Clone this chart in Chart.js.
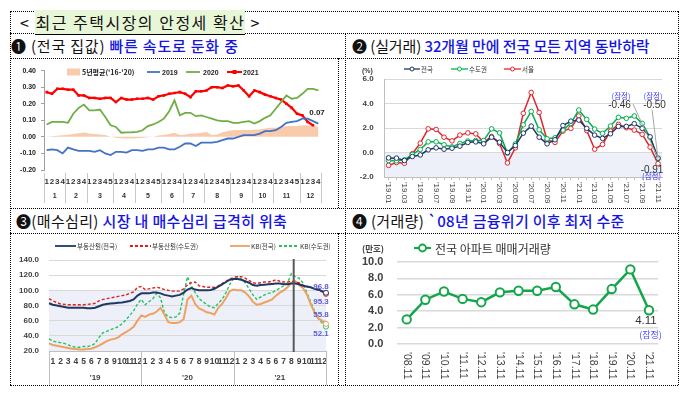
<!DOCTYPE html>
<html>
<head>
<meta charset="utf-8">
<script src="https://cdn.jsdelivr.net/npm/chart.js@4.4.0/dist/chart.umd.min.js"></script>
<style>
body{margin:0;background:#fff;}
#page{position:relative;width:683px;height:395px;overflow:hidden;font-family:"Noto Sans CJK KR",sans-serif;}
.hl{position:absolute;height:0;border-top:1px dotted #000;}
.vl{position:absolute;width:0;border-left:1px dotted #000;}
.hd{position:absolute;font-size:15px;line-height:18px;white-space:nowrap;color:#111;}
.blue{color:#1414e6;font-weight:500;}
.mark{background:#e8f6d8;border-bottom:1px solid #000;}
.cv{position:absolute;}
</style>
</head>
<body>
<div id="page">
  <div class="hl" style="left:10px;top:11px;width:668px"></div>
  <div class="hl" style="left:10px;top:33px;width:668px"></div>
  <div class="hl" style="left:10px;top:58px;width:668px"></div>
  <div class="hl" style="left:10px;top:208px;width:668px"></div>
  <div class="hl" style="left:10px;top:233px;width:668px"></div>
  <div class="hl" style="left:10px;top:385px;width:668px"></div>
  <div class="vl" style="left:10px;top:11px;height:374px"></div>
  <div class="vl" style="left:678px;top:11px;height:374px"></div>
  <div class="vl" style="left:345px;top:33px;height:352px"></div>
  <div class="vl" style="left:338px;top:58px;height:150px"></div>
  <div class="vl" style="left:338px;top:233px;height:152px"></div>

  <div class="hd" style="left:20px;top:13px;font-size:16px;letter-spacing:1.5px">&lt; <span class="mark">최근 주택시장의 안정세 확산</span> &gt;</div>
  <div class="hd" style="left:11px;top:37px;letter-spacing:0.8px">❶ (전국 집값) <span class="blue">빠른 속도로 둔화 중</span></div>
  <div class="hd" style="left:352px;top:37px;letter-spacing:-0.1px">❷ (실거래) <span class="blue">32개월 만에 전국 모든 지역 동반하락</span></div>
  <div class="hd" style="left:16px;top:212px;letter-spacing:0.35px">❸(매수심리) <span class="blue">시장 내 매수심리 급격히 위축</span></div>
  <div class="hd" style="left:352px;top:212px;letter-spacing:0.3px">❹ (거래량) <span class="blue">`08년 금융위기 이후 최저 수준</span></div>

  <canvas id="c1" class="cv" width="325" height="148" style="left:12px;top:59px"></canvas>
  <canvas id="c2" class="cv" width="331" height="148" style="left:346px;top:59px"></canvas>
  <canvas id="c3" class="cv" width="325" height="150" style="left:12px;top:235px"></canvas>
  <canvas id="c4" class="cv" width="331" height="150" style="left:346px;top:235px"></canvas>
</div>
<script>
// ---------- chart 1: weekly price change (%)
const weekCounts = [4, 4, 5, 4, 5, 4, 4, 5, 4, 4, 5, 4];
const monthLabels = ['1', '2', '3', '4', '5', '6', '7', '8', '9', '10', '11', '12'];
const avg5y = [0.0, 0.003, 0.006, 0.01, 0.013, 0.018, 0.022, 0.026, 0.02, 0.017, 0.015, 0.012, 0.0,
  -0.005, -0.008, -0.01, -0.01, -0.008, -0.005, -0.003, 0.0, 0.008, 0.012, 0.018, 0.025, 0.012,
  0.015, 0.02, 0.02, 0.025, 0.03, 0.012, 0.015, 0.028, 0.035, 0.04, 0.042, 0.042, 0.042, 0.043,
  0.045, 0.05, 0.055, 0.055, 0.06, 0.065, 0.065, 0.065, 0.068, 0.07, 0.068, 0.06];
const y2019 = [-0.08, -0.075, -0.08, -0.10, -0.065, -0.075, -0.085, -0.085, -0.085, -0.09,
  -0.08, -0.10, -0.11, -0.09, -0.09, -0.095, -0.08, -0.08, -0.085, -0.075,
  -0.075, -0.065, -0.065, -0.075, -0.075, -0.06, -0.04, -0.04, -0.055, -0.035,
  -0.035, -0.035, -0.03, -0.02, -0.01, -0.01, 0.0, 0.01, 0.01, 0.01,
  0.02, 0.035, 0.035, 0.04, 0.06, 0.085, 0.09, 0.095, 0.11, 0.11, 0.095, 0.08];
const y2020 = [0.075, 0.09, 0.09, 0.09, 0.085, 0.14, 0.175, 0.195, 0.16, 0.16,
  0.165, 0.12, 0.07, 0.06, 0.025, 0.027, 0.028, 0.03, 0.04, 0.065,
  0.075, 0.09, 0.11, 0.155, 0.22, 0.13, 0.145, 0.145, 0.125, 0.13,
  0.12, 0.11, 0.10, 0.095, 0.095, 0.085, 0.085, 0.09, 0.095, 0.08,
  0.095, 0.115, 0.13, 0.17, 0.21, 0.25, 0.23, 0.235, 0.26, 0.29, 0.29, 0.28];
const y2021 = [0.27, 0.26, 0.29, 0.29, 0.285, 0.285, 0.25, 0.25, 0.235, 0.235,
  0.23, 0.235, 0.235, 0.21, 0.235, 0.225, 0.225, 0.23, 0.23, 0.235,
  0.225, 0.245, 0.25, 0.26, 0.265, 0.27, 0.26, 0.24, 0.275, 0.275,
  0.28, 0.30, 0.30, 0.295, 0.31, 0.305, 0.31, 0.28, 0.245, 0.28,
  0.27, 0.255, 0.245, 0.235, 0.225, 0.20, 0.175, 0.14, 0.13, 0.09, 0.07];

// ---------- chart 2: monthly real transaction price change (%)
const monthTicks = ["'19.01", "'19.02", "'19.03", "'19.04", "'19.05", "'19.06", "'19.07", "'19.08", "'19.09", "'19.10", "'19.11", "'19.12",
  "'20.01", "'20.02", "'20.03", "'20.04", "'20.05", "'20.06", "'20.07", "'20.08", "'20.09", "'20.10", "'20.11", "'20.12",
  "'21.01", "'21.02", "'21.03", "'21.04", "'21.05", "'21.06", "'21.07", "'21.08", "'21.09", "'21.10", "'21.11"];
const natChg = [-0.44, -0.46, -0.65, -0.33, -0.2, 0.22, 0.38, 0.27, 0.35, 0.52, 0.82, 0.87,
  0.71, 1.25, 0.84, 0.0, 0.57, 1.58, 2.15, 1.25, 0.71, 1.04, 2.2, 2.56,
  2.65, 1.97, 1.42, 1.15, 1.53, 2.13, 2.13, 2.35, 1.97, 1.28, -0.46];
const capChg = [-0.65, -0.68, -0.6, -0.16, 0.25, 0.87, 0.87, 0.63, 0.46, 0.74, 0.93, 0.98,
  0.98, 1.93, 1.6, -0.05, 0.7, 2.26, 3.35, 1.85, 1.12, 1.2, 1.83, 2.38,
  3.47, 2.7, 1.91, 1.56, 2.16, 2.87, 2.79, 2.98, 2.38, 1.23, -0.50];
const seoulChg = [-1.05, -0.82, -0.88, -0.1, 0.76, 1.93, 1.88, 1.25, 0.95, 1.42, 1.6, 1.52,
  0.85, 1.3, 0.73, -0.85, 0.38, 3.2, 4.9, 3.27, 1.03, 0.82, 1.75, 1.97,
  2.98, 1.8, 0.27, 0.66, 1.75, 2.3, 2.02, 1.83, 1.48, 0.44, -0.91];

// ---------- chart 3: buyer sentiment, half-month steps '19.01 ~ '21.12
const yearLabels = ["'19", "'20", "'21"];
const rebNat = [83, 81, 80, 79, 78, 77, 77, 77, 77, 77, 76.5, 76.5, 77, 79, 81, 82, 82.5, 83, 83.5, 84, 85, 86, 88, 93,
  96, 96, 96, 97, 97, 96, 94, 93, 92, 93, 94, 97, 101, 103, 101, 100, 100, 100, 100.5, 102, 105, 108, 111, 114,
  115, 115, 114, 112, 110, 107, 106, 107, 107.5, 108, 108.5, 109, 109, 108, 108, 109, 109, 108, 106, 105, 104, 102, 101, 99, 96.8];
const rebCap = [89, 86, 84, 82, 81.5, 81, 81, 81, 81, 81, 81.5, 82, 83, 86, 88, 89, 90, 91, 92, 93, 94, 96, 98, 104,
  105, 101, 102, 103, 104, 103, 101, 100, 99, 99, 99, 102, 107, 110, 111, 106, 105, 104, 104, 104, 106, 109, 112, 115,
  117, 118, 118, 116, 113, 110, 109, 110, 111, 111, 112, 114, 112, 111, 111, 112, 111, 110, 107, 105, 104, 102, 100, 98, 95.3];
const kbNat = [30, 28, 27, 26, 25, 24, 23, 22.5, 22, 22, 22.5, 23, 25, 27, 30, 33, 35, 36, 38, 42, 45, 48, 52, 60,
  67, 65, 68, 69, 72, 77, 68, 58, 57, 57, 58, 62, 88, 93, 82, 76, 74, 71, 70, 68, 77, 82, 90, 99,
  101, 100, 100, 97, 92, 85, 81, 82, 84, 86, 88, 93, 97, 100, 104, 110, 112, 107, 103, 95, 82, 71, 63, 60, 55.8];
const kbCap = [36, 33, 32, 31, 30, 28, 26, 25, 25, 26, 26, 27, 30, 38, 44, 46, 48, 50, 52, 56, 61, 67, 73, 82,
  88, 81, 85, 89, 96, 90, 70, 65, 64, 65, 70, 95, 118, 106, 97, 89, 85, 81, 78, 77, 83, 88, 97, 108,
  116, 118, 115, 110, 102, 94, 88, 91, 94, 96, 97, 100, 103, 106, 110, 122, 118, 116, 110, 97, 85, 73, 63, 57, 52.1];
const markerStep = 63.6;

// ---------- chart 4: November apartment transactions (10k units)
const novLabels = ["'08.11", "'09.11", "'10.11", "'11.11", "'12.11", "'13.11", "'14.11", "'15.11", "'16.11", "'17.11", "'18.11", "'19.11", "'20.11", "'21.11"];
const novDeals = [3.0, 5.4, 6.4, 5.5, 5.1, 6.3, 6.5, 6.5, 6.95, 4.84, 4.2, 6.7, 9.1, 4.11];

Chart.defaults.font.family = "'Liberation Sans', Arial, sans-serif";
Chart.defaults.color = '#404040';
Chart.defaults.animation = false;
Chart.defaults.plugins.legend.display = false;
Chart.defaults.plugins.tooltip.enabled = false;

const KR = '"Noto Sans CJK KR", sans-serif';
const page = document.getElementById('page');

// small helpers for html legend pieces
function label(x, y, s, css) {
  const d = document.createElement('div');
  d.textContent = s;
  d.style.cssText = 'position:absolute;white-space:nowrap;line-height:1;transform:translateY(-50%);left:' + x + 'px;top:' + y + 'px;' + (css || '');
  page.appendChild(d);
}
function sym(x, y, w, o) {
  const ns = 'http://www.w3.org/2000/svg';
  const svg = document.createElementNS(ns, 'svg');
  svg.setAttribute('width', w); svg.setAttribute('height', 10);
  svg.style.cssText = 'position:absolute;overflow:visible;left:' + x + 'px;top:' + (y - 5) + 'px';
  let h = '';
  if (o.box) h += '<rect x="0" y="' + (5 - o.box / 2) + '" width="' + w + '" height="' + o.box + '" fill="' + o.color + '"/>';
  else h += '<line x1="0" y1="5" x2="' + w + '" y2="5" stroke="' + o.color + '" stroke-width="' + (o.lw || 1.5) + '"' + (o.dash ? ' stroke-dasharray="' + o.dash + '"' : '') + '/>';
  if (o.circle) h += '<circle cx="' + w / 2 + '" cy="5" r="' + o.circle + '" fill="#fff" stroke="' + o.color + '" stroke-width="' + (o.cw || 1) + '"/>';
  if (o.square) h += '<rect x="' + (w / 2 - o.square) + '" y="' + (5 - o.square) + '" width="' + 2 * o.square + '" height="' + 2 * o.square + '" fill="' + o.color + '"/>';
  svg.innerHTML = h;
  page.appendChild(svg);
}

// plugins
const groupLines = {
  id: 'groupLines',
  afterDraw(chart, args, o) {
    const ctx = chart.ctx, sc = chart.scales[o.scale], ca = chart.chartArea;
    ctx.save();
    ctx.strokeStyle = o.color; ctx.lineWidth = 1;
    o.at.forEach(v => {
      const px = Math.round(sc.getPixelForValue(v)) + 0.5;
      ctx.beginPath(); ctx.moveTo(px, ca.bottom + o.from); ctx.lineTo(px, ca.bottom + o.to); ctx.stroke();
    });
    ctx.restore();
  }
};
const band = {
  id: 'band',
  beforeDraw(chart, args, o) {
    const ctx = chart.ctx, ca = chart.chartArea, y = chart.scales.y;
    const t = y.getPixelForValue(o.to), b = y.getPixelForValue(o.from);
    ctx.save(); ctx.fillStyle = o.color; ctx.fillRect(ca.left, t, ca.right - ca.left, b - t); ctx.restore();
  }
};
const vLabels = {
  id: 'vLabels',
  afterDraw(chart, args, o) {
    const ctx = chart.ctx, sc = chart.scales.x;
    ctx.save();
    ctx.font = o.font; ctx.fillStyle = o.color; ctx.textAlign = 'left'; ctx.textBaseline = 'middle';
    sc.getLabels().forEach((lab, i) => {
      if (i % o.every) return;
      ctx.save();
      ctx.translate(sc.getPixelForValue(i), chart.chartArea.bottom + o.gap);
      ctx.rotate(Math.PI / 2);
      ctx.fillText(lab, 0, 0);
      ctx.restore();
    });
    ctx.restore();
  }
};
const notes = {
  id: 'notes',
  afterDatasetsDraw(chart, args, o) {
    const ctx = chart.ctx;
    o.items.forEach(it => {
      const pts = chart.getDatasetMeta(it.ds).data;
      const pt = pts[pts.length - 1];
      ctx.save();
      if (it.line) {
        ctx.strokeStyle = '#a6a6a6'; ctx.lineWidth = 1;
        ctx.beginPath(); ctx.moveTo(pt.x + it.line[0], pt.y + it.line[1]); ctx.lineTo(pt.x, pt.y); ctx.stroke();
      }
      if (it.text) {
        ctx.font = it.font; ctx.fillStyle = it.color; ctx.textAlign = 'center'; ctx.textBaseline = 'middle';
        ctx.fillText(it.text, pt.x + it.dx, pt.y + it.dy);
      }
      ctx.restore();
    });
  }
};
const vMarker = {
  id: 'vMarker',
  afterDatasetsDraw(chart, args, o) {
    const ctx = chart.ctx, ca = chart.chartArea;
    const px = chart.scales.x.getPixelForValue(o.at);
    ctx.save(); ctx.strokeStyle = o.color; ctx.lineWidth = 2;
    ctx.beginPath(); ctx.moveTo(px, ca.top - 1); ctx.lineTo(px, ca.bottom + 1); ctx.stroke(); ctx.restore();
  }
};

// ---------- chart 1
const weekLabels = [], monthCenters = [], monthEdges = [];
let w0 = 0;
weekCounts.forEach(n => {
  monthEdges.push(w0 - 0.5);
  monthCenters.push(w0 + (n - 1) / 2);
  for (let k = 1; k <= n; k++) weekLabels.push(String(k));
  w0 += n;
});
monthEdges.push(w0 - 0.5);

new Chart(document.getElementById('c1'), {
  type: 'line',
  data: {
    labels: weekLabels,
    datasets: [
      { label: "5년평균('16-'20)", data: avg5y, fill: 'origin', backgroundColor: '#f8cbad', borderWidth: 0, pointRadius: 0, order: 5 },
      { label: '2019', data: y2019, borderColor: '#4472c4', borderWidth: 1.8, pointRadius: 0 },
      { label: '2020', data: y2020, borderColor: '#70ad47', borderWidth: 1.8, pointRadius: 0 },
      { label: '2021', data: y2021, borderColor: '#ff0000', backgroundColor: '#ff0000', borderWidth: 2.2, pointStyle: 'rect', pointRadius: 1.8, pointBorderWidth: 0 }
    ]
  },
  plugins: [groupLines, notes],
  options: {
    responsive: false,
    layout: { padding: { left: 0, right: 16, top: 11.6, bottom: 3 } },
    plugins: {
      groupLines: { scale: 'xw', at: monthEdges, from: 3, to: 33, color: '#c8c8c8' },
      notes: { items: [{ ds: 3, text: '0.07', dx: 4, dy: -12, font: 'bold 8px "Liberation Sans"', color: '#222' }] }
    },
    scales: {
      x: { offset: true, display: false },
      xw: {
        type: 'linear', position: 'bottom', weight: 1, min: -0.5, max: w0 - 0.5,
        grid: { display: false, drawTicks: false }, border: { display: false },
        afterBuildTicks(s) { s.ticks = weekLabels.map((l, i) => ({ value: i })); },
        ticks: { autoSkip: false, maxRotation: 0, padding: 7, font: { size: 8, weight: 'bold' }, color: '#333',
          callback: (v, i) => weekLabels[i] },
        afterFit(s) { s.height = 16; }
      },
      xm: {
        type: 'linear', position: 'bottom', weight: 2, min: -0.5, max: w0 - 0.5,
        grid: { display: false, drawTicks: false }, border: { display: false },
        afterBuildTicks(s) { s.ticks = monthCenters.map(v => ({ value: v })); },
        ticks: { autoSkip: false, maxRotation: 0, padding: 5.5, font: { size: 7, weight: 'bold' }, color: '#333',
          callback: (v, i) => monthLabels[i] },
        afterFit(s) { s.height = 18; }
      },
      y: {
        min: -0.2, max: 0.4,
        ticks: { stepSize: 0.1, padding: 5, font: { size: 7, weight: 'bold' }, color: '#222', callback: v => v.toFixed(2) },
        grid: { drawOnChartArea: false, tickLength: 3, color: '#a0a0a0' },
        border: { color: '#a0a0a0' },
        afterFit(s) { s.width = 32; }
      }
    }
  }
});
sym(67, 71.5, 13, { box: 7, color: '#f8cbad' });
label(82, 71.5, "5년평균('16-'20)", 'font:bold 7px ' + KR + ';color:#222');
sym(147, 71.5, 13, { color: '#4472c4', lw: 1.8 });
label(162, 71.5, '2019', 'font:bold 7px "Liberation Sans";color:#222');
sym(186, 71.5, 14, { color: '#70ad47', lw: 1.8 });
label(203, 71.5, '2020', 'font:bold 7px "Liberation Sans";color:#222');
sym(227, 71.5, 15, { color: '#ff0000', lw: 2, square: 2 });
label(243, 71.5, '2021', 'font:bold 7px "Liberation Sans";color:#222');

// ---------- chart 2
const c2Colors = ['#1f3864', '#00b050', '#e0242b'];
new Chart(document.getElementById('c2'), {
  type: 'line',
  data: {
    labels: monthTicks,
    datasets: [
      { label: '전국', data: natChg, borderColor: c2Colors[0] },
      { label: '수도권', data: capChg, borderColor: c2Colors[1] },
      { label: '서울', data: seoulChg, borderColor: c2Colors[2] }
    ].map(d => Object.assign(d, { borderWidth: 1.5, pointRadius: 2.3, pointBorderWidth: 1, pointBackgroundColor: '#fff', pointBorderColor: d.borderColor }))
  },
  plugins: [band, vLabels, notes],
  options: {
    responsive: false,
    layout: { padding: { left: 0, right: 15, top: 20, bottom: 0 } },
    plugins: {
      band: { from: -2, to: 0, color: '#edf0f9' },
      vLabels: { every: 2, gap: 5, font: '8px "Liberation Sans"', color: '#404040' },
      notes: { items: [
        { ds: 0, line: [-25, -54] },
        { ds: 1, line: [-6, -49] },
        { ds: 0, text: '(잠정)', dx: -37, dy: -62, font: '7.5px ' + KR, color: '#3a3aff' },
        { ds: 0, text: '-0.46', dx: -38.5, dy: -53, font: '10px "Liberation Sans"', color: '#333' },
        { ds: 1, text: '(잠정)', dx: -5, dy: -62.6, font: '7.5px ' + KR, color: '#3a3aff' },
        { ds: 1, text: '-0.50', dx: -3.5, dy: -53.6, font: '10px "Liberation Sans"', color: '#333' },
        { ds: 2, text: '(잠정)', dx: -6.5, dy: 12.7, font: '7.5px ' + KR, color: '#3a3aff' },
        { ds: 2, text: '-0.91', dx: -6, dy: 7, font: '10px "Liberation Sans"', color: '#333' }
      ] }
    },
    scales: {
      x: {
        offset: true,
        ticks: { display: false },
        grid: { drawOnChartArea: false, drawTicks: true, tickLength: 3, color: '#bfbfbf' },
        border: { color: '#bfbfbf' },
        afterFit(s) { s.height = 30; }
      },
      y: {
        min: -2, max: 6,
        ticks: { stepSize: 2, padding: 11, font: { size: 8, weight: 'bold' }, color: '#404040', callback: v => v.toFixed(1) },
        grid: { color: '#d9d9d9', drawTicks: false },
        border: { color: '#bfbfbf' },
        afterFit(s) { s.width = 38.6; }
      }
    }
  }
});
label(362, 70, '(%)', 'font:bold 7px "Liberation Sans";color:#404040');
[['전국', 404, 16], ['수도권', 451, 17], ['서울', 504, 17]].forEach((it, i) => {
  sym(it[1], 69, it[2], { color: c2Colors[i], lw: 1.3, circle: 2 });
  label(it[1] + it[2] + 1, 69, it[0], 'font:6.5px ' + KR + ';color:#333');
});

// ---------- chart 3
const c3Colors = ['#1f3864', '#e02020', '#f0a060', '#22c35e'];
const halfSteps = rebNat.map((v, i) => String(i));
const nSteps = halfSteps.length - 1;
const monthPos = [], yearPos = [], yearEdges = [];
for (let y = 0; y < yearLabels.length; y++) {
  yearEdges.push(y * 24);
  yearPos.push(y * 24 + 12);
  for (let m = 0; m < 12; m++) monthPos.push(y * 24 + m * 2 + 1);
}
yearEdges.push(nSteps);
const endPt = ctx => ctx.dataIndex === nSteps ? 2.5 : 0;
new Chart(document.getElementById('c3'), {
  type: 'line',
  data: {
    labels: halfSteps,
    datasets: [
      { label: '부동산원(전국)', data: rebNat, borderColor: c3Colors[0], borderWidth: 2 },
      { label: '부동산원(수도권)', data: rebCap, borderColor: c3Colors[1], borderWidth: 1.4, borderDash: [3, 2] },
      { label: 'KB(전국)', data: kbNat, borderColor: c3Colors[2], borderWidth: 2 },
      { label: 'KB(수도권)', data: kbCap, borderColor: c3Colors[3], borderWidth: 1.4, borderDash: [3, 2] }
    ].map(d => Object.assign(d, { pointRadius: endPt, pointBackgroundColor: '#fff', pointBorderColor: d.borderColor, pointBorderWidth: 1 }))
  },
  plugins: [band, groupLines, notes, vMarker],
  options: {
    responsive: false,
    layout: { padding: { left: 0, right: 11, top: 25, bottom: 0 } },
    plugins: {
      band: { from: 20, to: 100, color: '#eef0f9' },
      groupLines: { scale: 'x2', at: yearEdges, from: 0, to: 34, color: '#bfbfbf' },
      vMarker: { at: markerStep, color: '#595959' },
      notes: { items: [
        { ds: 0, text: '96.8', dx: -5, dy: -6, font: 'bold 8px "Liberation Sans"', color: '#5a5ad8' },
        { ds: 1, text: '95.3', dx: -5, dy: 8, font: 'bold 8px "Liberation Sans"', color: '#5a5ad8' },
        { ds: 2, text: '55.8', dx: -5, dy: -9, font: 'bold 8px "Liberation Sans"', color: '#5a5ad8' },
        { ds: 3, text: '52.1', dx: -5, dy: 7, font: 'bold 8px "Liberation Sans"', color: '#5a5ad8' }
      ] }
    },
    scales: {
      x: { display: false },
      x2: {
        type: 'linear', position: 'bottom', weight: 1, min: 0, max: nSteps,
        grid: { display: false, drawTicks: false }, border: { color: '#bfbfbf' },
        afterBuildTicks(s) { s.ticks = monthPos.map(v => ({ value: v })); },
        ticks: { autoSkip: false, maxRotation: 0, padding: 5.5, font: { size: 8.5, weight: 'bold' }, color: '#404040',
          callback: (v, i) => monthLabels[i % 12] },
        afterFit(s) { s.height = 16; }
      },
      x3: {
        type: 'linear', position: 'bottom', weight: 2, min: 0, max: nSteps,
        grid: { display: false, drawTicks: false }, border: { display: false },
        afterBuildTicks(s) { s.ticks = yearPos.map(v => ({ value: v })); },
        ticks: { autoSkip: false, maxRotation: 0, padding: 6, font: { size: 8, weight: 'bold' }, color: '#404040',
          callback: (v, i) => yearLabels[i] },
        afterFit(s) { s.height = 18; }
      },
      y: {
        min: 20, max: 140,
        ticks: { stepSize: 20, padding: 10, font: { size: 8, weight: 'bold' }, color: '#404040', callback: v => v.toFixed(1) },
        grid: { color: '#d9d9d9', drawTicks: false },
        border: { display: false },
        afterFit(s) { s.width = 37; }
      }
    }
  }
});
[['부동산원(전국)', 55, 21, null], ['부동산원(수도권)', 130, 21, '3,2'], ['KB(전국)', 230, 20, null], ['KB(수도권)', 279, 20, '3,2']].forEach((it, i) => {
  sym(it[1], 246, it[2], { color: c3Colors[i], lw: 1.8, dash: it[3] });
  label(it[1] + it[2] + 1, 246, it[0], 'font:6.5px ' + KR + ';color:#333');
});

// ---------- chart 4
new Chart(document.getElementById('c4'), {
  type: 'line',
  data: {
    labels: novLabels,
    datasets: [{ label: '전국 아파트 매매거래량', data: novDeals, borderColor: '#14a64a', borderWidth: 2.5,
      pointRadius: 4.2, pointBorderWidth: 2, pointBackgroundColor: '#fff', pointBorderColor: '#14a64a' }]
  },
  plugins: [vLabels, notes],
  options: {
    responsive: false,
    layout: { padding: { left: 0, right: 18.7, top: 27, bottom: 0 } },
    plugins: {
      vLabels: { every: 1, gap: 8, font: '10.5px "Liberation Sans"', color: '#404040' },
      notes: { items: [
        { ds: 0, text: '4.11', dx: -3, dy: 10.5, font: '11.5px "Liberation Sans"', color: '#333' },
        { ds: 0, text: '(잠정)', dx: 1.5, dy: 24.4, font: '9px ' + KR, color: '#4a4aff' }
      ] }
    },
    scales: {
      x: {
        offset: true,
        ticks: { display: false },
        grid: { display: false }, border: { display: false },
        afterFit(s) { s.height = 41; }
      },
      y: {
        min: 0, max: 10,
        ticks: { stepSize: 2, padding: 14, font: { size: 11, weight: 'bold' }, color: '#404040', callback: v => v.toFixed(1) },
        grid: { color: '#d9d9d9', lineWidth: 1.5, drawTicks: false },
        border: { display: false },
        afterFit(s) { s.width = 51.4; }
      }
    }
  }
});
label(362, 248, '(만호)', 'font:bold 8.5px ' + KR + ';color:#404040');
sym(414, 247.5, 17, { color: '#14a64a', lw: 2.2, circle: 3.5, cw: 1.8 });
label(435, 247.5, '전국 아파트 매매거래량', 'font:12px ' + KR + ';color:#333');
</script>
</body>
</html>
